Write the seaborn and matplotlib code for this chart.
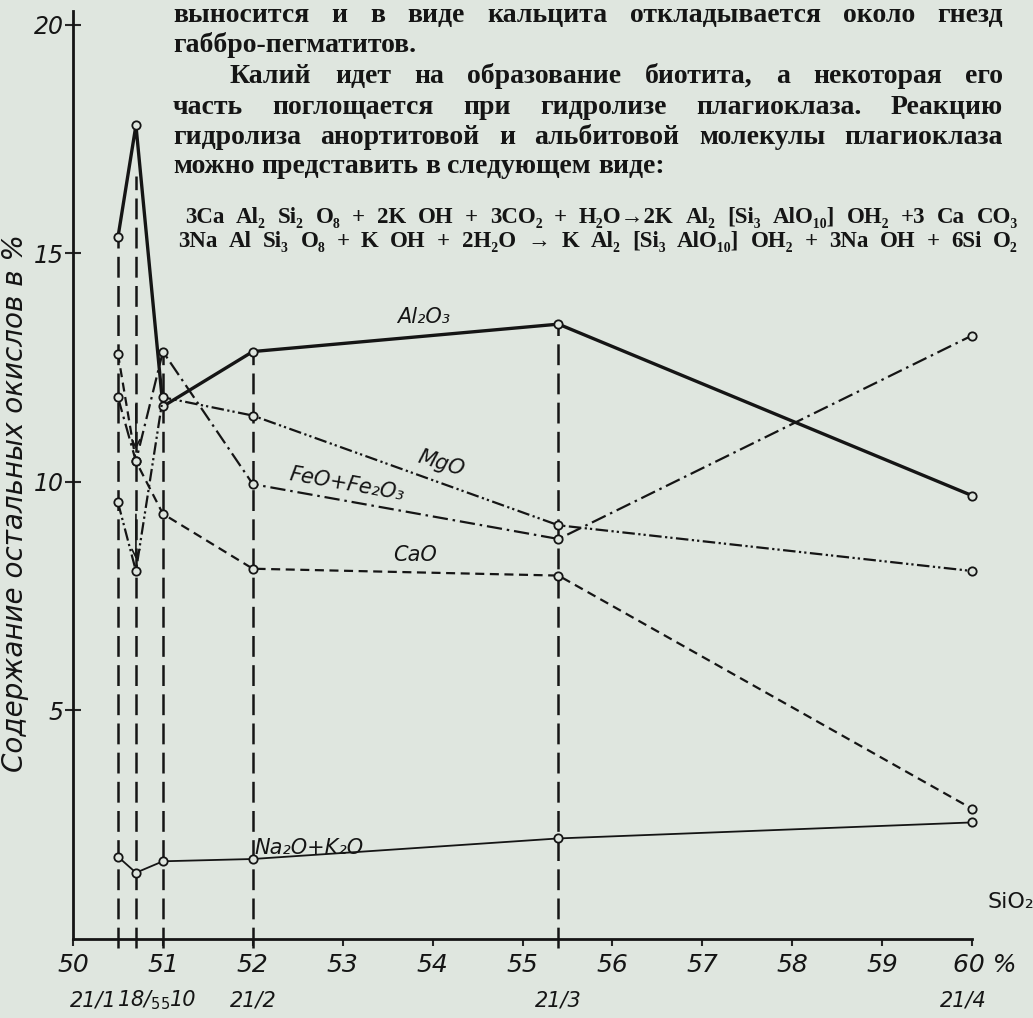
import numpy as np
import pandas as pd
import seaborn as sns
import matplotlib.pyplot as plt
from matplotlib import transforms

# samples (bottom row) and their SiO2 content
samples = ["21/1", r"18/$_{55}$", "10", "21/2", "21/3", "21/4"]
sio2 = [50.5, 50.7, 51.0, 52.0, 55.4, 60.0]

# other oxides, %
al2o3 = [15.35, 17.8, 11.65, 12.85, 13.45, 9.7]
mgo = [9.55, 8.05, 11.85, 11.45, 9.05, 8.05]
feo_fe2o3 = [11.85, 10.45, 12.85, 9.95, 8.75, 13.2]
cao = [12.8, 10.45, 9.3, 8.1, 7.95, 2.85]
na2o_k2o = [1.8, 1.45, 1.7, 1.75, 2.2, 2.55]

# height of the vertical dashed guide of each sample (none for 21/4)
guide_top = [15.35, 16.7, 12.85, 12.85, 13.45]

x_ticks = [50, 51, 52, 53, 54, 55, 56, 57, 58, 59, 60]
x_ticklabels = ["50", "51", "52", "53", "54", "55", "56", "57", "58", "59", "60 %"]
y_ticks = [5, 10, 15, 20]
y_ticklabels = ["5", "10", "15", "20"]

# sideways nudge of the sample numbers, px (they are crowded at the left)
sample_nudge = [-25, 8, 20, 0, 0, -9]

# page text printed above the chart
page_lines = [
    "выносится и в виде кальцита откладывается около гнезд",
    "габбро-пегматитов.",
    "Калий идет на образование биотита, а некоторая его",
    "часть поглощается при гидролизе плагиоклаза. Реакцию",
    "гидролиза анортитовой и альбитовой молекулы плагиоклаза",
    "можно представить в следующем виде:",
]
equations = [
    "3Ca Al₂ Si₂ O₈ + 2K OH + 3CO₂ + H₂O→2K Al₂ [Si₃ AlO₁₀] OH₂ +3 Ca CO₃",
    "3Na Al Si₃ O₈ + K OH + 2H₂O → K Al₂ [Si₃ AlO₁₀] OH₂ + 3Na OH + 6Si O₂",
]

paper = "#dfe6df"
ink = "#151515"
W, H = 1033, 1018

sns.set_theme(style="ticks")
plt.rcParams["font.family"] = ["DejaVu Sans"]
plt.rcParams["lines.scale_dashes"] = False

fig = plt.figure(figsize=(W / 100, H / 100), dpi=100, facecolor=paper)
ax = fig.add_axes([73 / W, 1 - 939 / H, 899 / W, 928 / H])
ax.set_facecolor(paper)

# vertical guides from the axis up to the sample points
ax.vlines(sio2[:5], -0.2, guide_top, colors=ink, linestyles=[(0, (15, 6))],
          lw=1.8, clip_on=False, zorder=1)

mark = dict(color=ink, marker="o", markersize=6, markerfacecolor=paper,
            markeredgecolor=ink, markeredgewidth=1.3, clip_on=False, zorder=3)

sns.lineplot(x=sio2, y=al2o3, ax=ax, lw=2.4, linestyle="-", **mark)
sns.lineplot(x=sio2, y=mgo, ax=ax, lw=1.6,
             linestyle=(0, (9, 2.5, 1.6, 2.2, 1.6, 2.5)), **mark)
sns.lineplot(x=sio2, y=feo_fe2o3, ax=ax, lw=1.6,
             linestyle=(0, (11, 3.5, 1.8, 3.5)), **mark)
sns.lineplot(x=sio2, y=cao, ax=ax, lw=1.6, linestyle=(0, (6.5, 4)), **mark)
sns.lineplot(x=sio2, y=na2o_k2o, ax=ax, lw=1.3, linestyle="-", **mark)

# arrows where the curves meet at sample 18/55
for vals in (feo_fe2o3, mgo):
    ax.annotate("", xy=(sio2[1], vals[1] + 0.2), xytext=(sio2[1], vals[1] + 1.3),
                arrowprops=dict(arrowstyle="->", color=ink, lw=1.2,
                                mutation_scale=14), zorder=2)

lab = dict(color=ink, style="italic", fontsize=15, ha="center", va="center")
ax.text(53.9, 13.6, "Al₂O₃", **lab)
ax.text(54.1, 10.4, "MgO", rotation=-17, **lab)
ax.text(53.05, 9.95, "FeO+Fe₂O₃", rotation=-10, **lab)
ax.text(53.8, 8.4, "CaO", **lab)
ax.text(52.62, 2.0, "Na₂O+K₂O", **lab)

ax.set_xlim(50, 60)
ax.set_ylim(0, 20.3)
ax.set_xticks(x_ticks)
ax.set_xticklabels(x_ticklabels, fontsize=18, style="italic", color=ink)
ax.set_yticks(y_ticks)
ax.set_yticklabels(y_ticklabels, fontsize=17, style="italic", color=ink)
ax.tick_params(axis="y", direction="inout", length=11, width=1.5, pad=1)
ax.tick_params(axis="x", direction="out", length=5, width=1.5, pad=5)
ax.set_xlabel("")
ax.set_ylabel("")
sns.despine(ax=ax)
for side in ("left", "bottom"):
    ax.spines[side].set_linewidth(2)
    ax.spines[side].set_color(ink)

# "60" sits on its tick, the % sign trails to the right
last = ax.get_xticklabels()[-1]
last.set_transform(last.get_transform() +
                   transforms.ScaledTranslation(0.13, 0, fig.dpi_scale_trans))

# sample numbers under the SiO2 scale
for x, s, dx in zip(sio2, samples, sample_nudge):
    tr = transforms.offset_copy(ax.get_xaxis_transform(), fig=fig, x=dx, y=0,
                                units="dots")
    ax.text(x, -0.066, s, transform=tr, ha="center", va="center", fontsize=15,
            style="italic", color=ink)

ax.text(1.043, 0.04, "SiO₂", transform=ax.transAxes, ha="center", va="center",
        fontsize=16, color=ink)
ax.text(-0.064, 0.47, "Содержание остальных окислов в %", transform=ax.transAxes,
        rotation=90, ha="center", va="center", fontsize=20, style="italic",
        color=ink)


def put_line(text, x0, x1, base, justify=True, **kw):
    r = fig.canvas.get_renderer()
    words = text.split(" ")
    arts = [fig.text(0, 1 - base / H, w, va="baseline", ha="left", **kw) for w in words]
    widths = [a.get_window_extent(r).width for a in arts]
    if justify and len(words) > 1:
        gap = (x1 - x0 - sum(widths)) / (len(words) - 1)
    else:
        gap = kw.get("fontsize", 12) * 0.35
    x = x0
    for a, w in zip(arts, widths):
        a.set_x(x / W)
        x += w + gap


serif = ["Liberation Serif", "DejaVu Serif"]
body = dict(fontsize=20, family=serif, weight="bold", color=ink)
put_line(page_lines[0], 173, 1003, 22, **body)
put_line(page_lines[1], 173, 1003, 52, justify=False, **body)
put_line(page_lines[2], 230, 1003, 83, **body)
put_line(page_lines[3], 173, 1003, 114, **body)
put_line(page_lines[4], 173, 1003, 144, **body)
put_line(page_lines[5], 173, 1003, 173, justify=False, **body)
eq = dict(fontsize=16.5, family=serif, weight="bold", color=ink)
put_line(equations[0], 185, 1018, 223, **eq)
put_line(equations[1], 178, 1018, 247, **eq)

fig.savefig("out.png", dpi=100, facecolor=paper)
